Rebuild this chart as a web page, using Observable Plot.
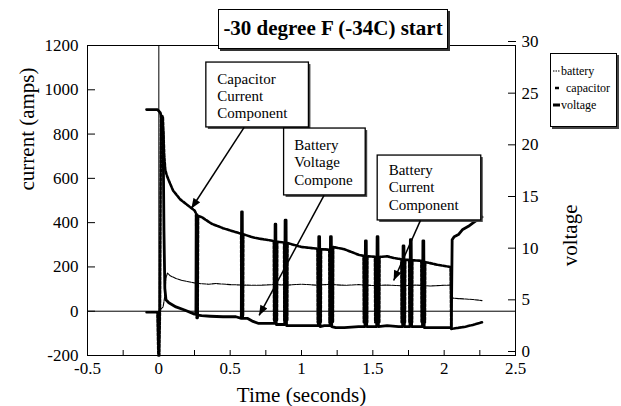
<!DOCTYPE html>
<html><head><meta charset="utf-8">
<script src="https://cdn.jsdelivr.net/npm/d3@7"></script>
<script src="https://cdn.jsdelivr.net/npm/@observablehq/plot@0.6"></script>
<style>
body{margin:0;background:#fff;font-family:"Liberation Serif",serif;}
#wrap{position:relative;width:621px;height:406px;overflow:hidden;}
#wrap svg text{font-family:"Liberation Serif","DejaVu Serif",serif !important;}
#title{position:absolute;left:218px;top:9px;width:230px;height:40px;box-sizing:border-box;border:1.5px solid #000;background:#fff;box-shadow:2px 2px 0 #333;font-weight:bold;font-size:21px;text-align:center;line-height:36px;white-space:nowrap;}
#legend{position:absolute;left:550px;top:53px;width:67px;height:74px;box-sizing:border-box;border:1px solid #000;background:#fff;box-shadow:2px 2px 0 #444;}
</style></head><body>
<div id="wrap"><div id="title"></div><div id="legend"></div></div>
<script>
// ---- text ----
const titleText = "-30 degree F (-34C) start";
const xLabel = "Time (seconds)";
const yLabel = "current (amps)";
const y2Label = "voltage";
const seriesNames = ["battery", "capacitor", "voltage"];
const noteLabels = ["Capacitor\nCurrent\nComponent", "Battery\nVoltage\nCompone", "Battery\nCurrent\nComponent"];

// ---- ticks ----
const xTicks = [-0.5, -0.25, 0, 0.25, 0.5, 0.75, 1, 1.25, 1.5, 1.75, 2, 2.25, 2.5];
const xTickLabels = ["-0.5", "", "0", "", "0.5", "", "1", "", "1.5", "", "2", "", "2.5"];
const ampTicks = [-200, 0, 200, 400, 600, 800, 1000, 1200];
const voltTicks = [0, 5, 10, 15, 20, 25, 30];

// ---- series: [time (s), value] ----
const voltageSeries = [
  [-0.086, 23.8], [-0.01, 23.8], [0.01, 23.5], [0.02, 23.0], [0.03, 21.5], [0.036, 12], [0.042, 6.5],
  [0.05, 5.4], [0.07, 5.1], [0.12, 4.7], [0.18, 4.4], [0.25, 4.0],
  [0.26, 4.0], [0.262, 13.6], [0.268, 13.6], [0.27, 3.9], [0.3, 3.85], [0.36, 3.8], [0.45, 3.75], [0.54, 3.75],
  [0.578, 3.6], [0.58, 13.9], [0.585, 13.9], [0.587, 3.6], [0.62, 3.6], [0.66, 3.3], [0.7, 3.1],
  [0.812, 3.1], [0.815, 12.7], [0.82, 12.7], [0.823, 3.0],
  [0.882, 3.0], [0.885, 13.1], [0.892, 13.1], [0.895, 2.9], [0.95, 2.9], [1.1, 2.9],
  [1.118, 2.9], [1.121, 11.5], [1.127, 11.5], [1.13, 2.8], [1.16, 2.9], [1.2, 2.9],
  [1.203, 11.5], [1.209, 11.5], [1.212, 2.8], [1.24, 2.7], [1.3, 2.7], [1.4, 2.8],
  [1.445, 2.8], [1.448, 11.1], [1.454, 11.1], [1.457, 2.8], [1.49, 2.8],
  [1.527, 2.8], [1.53, 11.5], [1.536, 11.5], [1.539, 2.8], [1.6, 2.9], [1.68, 2.8],
  [1.709, 2.8], [1.712, 10.6], [1.718, 10.6], [1.721, 2.8],
  [1.76, 2.8], [1.763, 11.2], [1.769, 11.2], [1.772, 2.8],
  [1.848, 2.8], [1.851, 11.1], [1.857, 11.1], [1.86, 2.7], [1.95, 2.7], [2.05, 2.7],
  [2.056, 11.2], [2.07, 11.5], [2.1, 11.7], [2.13, 12.2], [2.17, 12.5], [2.2, 12.8], [2.24, 13.2], [2.265, 13.4]
];
const capacitorSeries = [
  [-0.086, -5], [-0.01, -5], [-0.003, -200], [0.003, -200], [0.008, 20], [0.015, 880], [0.028, 880],
  [0.038, 700], [0.045, 640], [0.055, 615], [0.07, 590], [0.1, 545], [0.15, 505], [0.2, 480], [0.25, 455],
  [0.262, 440], [0.265, -30], [0.272, -30], [0.275, 430], [0.3, 425], [0.37, 395], [0.45, 375], [0.55, 355],
  [0.577, 350], [0.579, -20], [0.59, -20], [0.592, 348], [0.65, 335], [0.7, 328], [0.8, 318],
  [0.806, 316], [0.808, -40], [0.828, -40], [0.83, 314],
  [0.878, 310], [0.88, -40], [0.9, -40], [0.902, 308], [1.0, 290], [1.1, 283],
  [1.112, 282], [1.114, -50], [1.135, -50], [1.137, 280], [1.195, 278],
  [1.197, -50], [1.22, -50], [1.222, 290], [1.3, 280], [1.4, 255],
  [1.435, 250], [1.437, -50], [1.46, -50], [1.462, 248],
  [1.515, 246], [1.517, -50], [1.545, -50], [1.547, 245], [1.6, 248], [1.65, 240],
  [1.7, 235], [1.702, -50], [1.725, -50], [1.727, 232],
  [1.755, 232], [1.757, -50], [1.775, -50], [1.777, 230],
  [1.84, 228], [1.842, -50], [1.865, -50], [1.867, 222], [1.95, 210], [2.045, 200],
  [2.05, -80], [2.1, -75], [2.15, -70], [2.2, -62], [2.265, -50]
];
const batterySeries = [
  [-0.086, -5], [-0.005, -5], [0.0, 0], [0.03, 20], [0.04, 60], [0.05, 150], [0.06, 172], [0.08, 160],
  [0.12, 148], [0.16, 139], [0.25, 128], [0.3, 124], [0.35, 122], [0.4, 125], [0.5, 120], [0.6, 118],
  [0.7, 117], [0.8, 120], [0.9, 118], [1.0, 122], [1.1, 118], [1.2, 121], [1.3, 117], [1.4, 120],
  [1.5, 116], [1.6, 118], [1.7, 115], [1.8, 118], [1.9, 114], [2.0, 117], [2.045, 118],
  [2.05, 60], [2.1, 57], [2.15, 55], [2.2, 53], [2.265, 48]
];

// ---- annotation layout (data coordinates) ----
const noteBoxes = [
  {x1: 0.333, x2: 1.052, y1: 830, y2: 1123},
  {x1: 0.878, x2: 1.450, y1: 523, y2: 825},
  {x1: 1.534, x2: 2.260, y1: 410, y2: 703}
];
const noteTextPos = [{x: 0.41, y: 1083}, {x: 0.95, y: 783}, {x: 1.611, y: 670}];
const noteArrows = [
  {x1: 0.598, y1: 830, x2: 0.228, y2: 464},
  {x1: 1.158, y1: 523, x2: 0.703, y2: -19},
  {x1: 1.834, y1: 410, x2: 1.646, y2: 139}
];

const serif = "Liberation Serif";
const v2a = d3.scaleLinear([0, 30], [-200, 1200]);
const voltTickAmps = voltTicks.map(v => v2a(v));

const chart = Plot.plot({
  width: 621, height: 406,
  marginLeft: 87, marginRight: 106, marginTop: 45, marginBottom: 51,
  style: {fontFamily: serif, background: "#fff", color: "#000"},
  x: {domain: [-0.5, 2.5]},
  y: {domain: [-200, 1200]},
  marks: [
    Plot.ruleY([0], {stroke: "#000", strokeWidth: 1}),
    Plot.ruleX([0], {stroke: "#000", strokeWidth: 1}),
    Plot.line(batterySeries, {x: d => d[0], y: d => d[1], stroke: "#000", strokeWidth: 1.1, strokeDasharray: "4,1"}),
    Plot.line(capacitorSeries, {x: d => d[0], y: d => d[1], stroke: "#000", strokeWidth: 2.6, strokeDasharray: "3,1.5"}),
    Plot.line(voltageSeries, {x: d => d[0], y: d => v2a(d[1]), stroke: "#000", strokeWidth: 2.8}),
    Plot.frame({stroke: "#000", strokeWidth: 1}),
    Plot.axisX({ticks: xTicks, tickSize: -5, tickPadding: 11, fontSize: 17, fontFamily: serif, label: null,
      tickFormat: d => xTickLabels[xTicks.indexOf(d)]}),
    Plot.axisY({anchor: "left", ticks: ampTicks, tickSize: -8, tickPadding: 17, fontSize: 17, fontFamily: serif, label: null,
      tickFormat: d => String(d)}),
    Plot.axisY({anchor: "right", ticks: voltTickAmps, tickSize: -8, tickPadding: 14, fontSize: 17, fontFamily: serif, label: null,
      dy: -4, tickFormat: d => String(voltTicks[voltTickAmps.indexOf(d)])}),
    Plot.text([xLabel], {frameAnchor: "bottom", dy: 40, lineAnchor: "middle", fontSize: 21, fontFamily: serif}),
    Plot.text([yLabel], {frameAnchor: "left", dx: -60.5, dy: -10, rotate: -90, lineAnchor: "middle", fontSize: 21, fontFamily: serif}),
    Plot.text([y2Label], {frameAnchor: "right", dx: 54.5, dy: 4, rotate: -90, lineAnchor: "middle", fontSize: 21, fontFamily: serif}),
    Plot.rect(noteBoxes, {x1: "x1", x2: "x2", y1: "y1", y2: "y2", fill: "#444", dx: 2, dy: 2}),
    Plot.rect(noteBoxes, {x1: "x1", x2: "x2", y1: "y1", y2: "y2", fill: "#fff", stroke: "#000", strokeWidth: 1.3}),
    Plot.text(noteTextPos, {x: "x", y: "y", text: (d, i) => noteLabels[i], textAnchor: "start", lineAnchor: "top", fontSize: 15, fontFamily: serif, lineHeight: 1.15}),
    Plot.link(noteArrows, {x1: "x1", y1: "y1", x2: "x2", y2: "y2", stroke: "#000", strokeWidth: 1.5})
  ]
});

const svg = d3.select(chart);
svg.append("defs").append("marker")
  .attr("id", "ah").attr("viewBox", "0 0 10 8").attr("refX", 10).attr("refY", 4)
  .attr("markerWidth", 11).attr("markerHeight", 8).attr("markerUnits", "userSpaceOnUse").attr("orient", "auto")
  .append("path").attr("d", "M0,0L10,4L0,8Z").attr("fill", "#000");
svg.selectAll('g[aria-label="link"] path').attr("marker-end", "url(#ah)");

const wrap = document.getElementById("wrap");
wrap.prepend(chart);
chart.style.position = "absolute";
chart.style.left = "0px";
chart.style.top = "0px";

document.getElementById("title").textContent = titleText;

// legend
const legendStyles = [
  {x1: 2, x2: 9, w: 1, dash: "1.5,1", tx: 10, y: 20},
  {x1: 4, x2: 8, w: 2.5, dash: null, tx: 15, y: 37},
  {x1: 2, x2: 9, w: 3, dash: null, tx: 10, y: 54}
];
const lg = d3.select("#legend").append("svg").attr("width", 66).attr("height", 72).style("display", "block");
seriesNames.forEach((name, i) => {
  const s = legendStyles[i];
  lg.append("line").attr("x1", s.x1).attr("x2", s.x2).attr("y1", s.y - 3).attr("y2", s.y - 3)
    .attr("stroke", "#000").attr("stroke-width", s.w).attr("stroke-dasharray", s.dash);
  lg.append("text").attr("x", s.tx).attr("y", s.y + 1).attr("font-size", 12)
    .attr("font-family", "Liberation Serif, serif").text(name);
});
</script>
</body></html>
